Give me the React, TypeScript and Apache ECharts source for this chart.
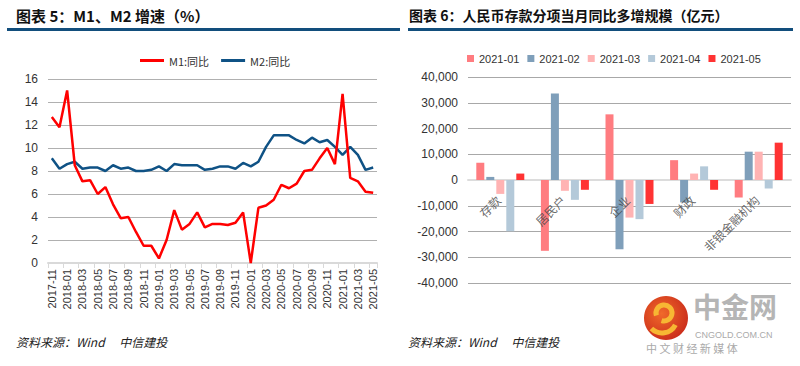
import React, { useEffect, useRef } from "react";
import * as echarts from "echarts";

const months = [
  "2017-11","2017-12","2018-01","2018-02","2018-03","2018-04","2018-05","2018-06","2018-07","2018-08","2018-09","2018-10","2018-11","2018-12",
  "2019-01","2019-02","2019-03","2019-04","2019-05","2019-06","2019-07","2019-08","2019-09","2019-10","2019-11","2019-12",
  "2020-01","2020-02","2020-03","2020-04","2020-05","2020-06","2020-07","2020-08","2020-09","2020-10","2020-11","2020-12",
  "2021-01","2021-02","2021-03","2021-04","2021-05",
];
const m1 = [12.7,11.8,15.0,8.5,7.1,7.2,6.0,6.6,5.1,3.9,4.0,2.7,1.5,1.5,0.4,2.0,4.6,2.9,3.4,4.4,3.1,3.4,3.4,3.3,3.5,4.4,0.0,4.8,5.0,5.5,6.8,6.5,6.9,8.0,8.1,9.1,10.0,8.6,14.7,7.4,7.1,6.2,6.1];
const m2 = [9.1,8.2,8.6,8.8,8.2,8.3,8.3,8.0,8.5,8.2,8.3,8.0,8.0,8.1,8.4,8.0,8.6,8.5,8.5,8.5,8.1,8.2,8.4,8.4,8.2,8.7,8.4,8.8,10.1,11.1,11.1,11.1,10.7,10.4,10.9,10.5,10.7,10.1,9.4,10.1,9.4,8.1,8.3];
const lineNames = ["M1:同比", "M2:同比"];

const depositCats = ["存款", "居民户", "企业", "财政", "非银金融机构"];
const barNames = ["2021-01", "2021-02", "2021-03", "2021-04", "2021-05"];
const bar01 = [6700, -27500, 25500, 7700, -6800];
const bar02 = [1200, 33600, -26900, -8700, 11000];
const bar03 = [-5400, -4200, -14600, 2500, 11000];
const bar04 = [-19900, -7700, -15200, 5300, -3300];
const bar05 = [2500, -3800, -9300, -3800, 14500];
const barColors = ["#ff7c80", "#7f9fba", "#ffb3b3", "#b4c9d9", "#ff3333"];

export default function App() {
  const ref = useRef<HTMLDivElement>(null);
  useEffect(() => {
    if (!ref.current) return;
    const chart = echarts.init(ref.current, null, { renderer: "svg" });
    const barData = [bar01, bar02, bar03, bar04, bar05];
    const cjk = '"Noto Sans CJK SC", "Liberation Sans", sans-serif';
    const option: any = {
      animation: false,
      backgroundColor: "#ffffff",
      textStyle: { fontFamily: '"Liberation Sans", Arial, sans-serif' },
      legend: [
        {
          data: lineNames,
          left: 135,
          top: 50,
          icon: "rect",
          itemWidth: 24,
          itemHeight: 3,
          itemGap: 12,
          textStyle: { fontSize: 11, color: "#333", fontFamily: cjk },
        },
        {
          data: barNames,
          left: 462,
          top: 48,
          icon: "rect",
          itemWidth: 7,
          itemHeight: 7,
          itemGap: 8,
          textStyle: { fontSize: 11, color: "#333" },
        },
      ],
      grid: [
        { left: 48, top: 79, width: 329, height: 184, containLabel: false },
        { left: 468, top: 77, width: 323, height: 206, containLabel: false },
      ],
      xAxis: [
        {
          gridIndex: 0,
          type: "category",
          data: months,
          boundaryGap: true,
          axisLine: { lineStyle: { color: "#d9d9d9", width: 2 } },
          axisTick: { show: true, interval: 1, alignWithLabel: false, lineStyle: { color: "#d9d9d9" } },
          axisLabel: { interval: 1, rotate: 90, fontSize: 11, color: "#333", margin: 6 },
        },
        {
          gridIndex: 1,
          type: "category",
          data: depositCats,
          axisLine: { onZero: true, lineStyle: { color: "#dcdcdc", width: 2 } },
          axisTick: { show: false },
          axisLabel: { show: false },
        },
      ],
      yAxis: [
        {
          gridIndex: 0,
          type: "value",
          min: 0,
          max: 16,
          interval: 2,
          axisLine: { show: false },
          axisTick: { show: false },
          axisLabel: { fontSize: 12, color: "#333", margin: 10 },
          splitLine: { lineStyle: { color: "#b0b0b0", width: 1 } },
        },
        {
          gridIndex: 1,
          type: "value",
          min: -40000,
          max: 40000,
          interval: 10000,
          axisLine: { show: false },
          axisTick: { show: false },
          axisLabel: {
            fontSize: 12,
            color: "#333",
            margin: 10,
            formatter: (v: number) => v.toLocaleString("en-US"),
          },
          splitLine: { lineStyle: { color: "#a8a8a8", width: 1 } },
        },
      ],
      series: [
        {
          name: lineNames[0],
          type: "line",
          xAxisIndex: 0,
          yAxisIndex: 0,
          data: m1,
          showSymbol: false,
          symbol: "none",
          lineStyle: { color: "#ff0000", width: 2.5 },
          itemStyle: { color: "#ff0000" },
          z: 3,
        },
        {
          name: lineNames[1],
          type: "line",
          xAxisIndex: 0,
          yAxisIndex: 0,
          data: m2,
          showSymbol: false,
          symbol: "none",
          lineStyle: { color: "#0f5285", width: 2.5 },
          itemStyle: { color: "#0f5285" },
          z: 2,
        },
        ...barNames.map((n, i) => ({
          name: n,
          type: "bar",
          xAxisIndex: 1,
          yAxisIndex: 1,
          data: barData[i],
          barWidth: 8,
          barGap: "25%",
          itemStyle: { color: barColors[i] },
        })),
        {
          name: "cat-labels",
          type: "scatter",
          xAxisIndex: 1,
          yAxisIndex: 1,
          data: depositCats.map((c) => [c, 0]),
          symbolSize: 0,
          silent: true,
          z: 10,
          label: {
            show: true,
            position: [0, 0],
            formatter: (p: any) => p.value[0],
            rotate: 45,
            align: "right",
            verticalAlign: "top",
            offset: [-14, 5],
            fontSize: 12,
            color: "#444",
            fontFamily: cjk,
          },
        },
      ],
      graphic: [
        {
          type: "text",
          left: 16,
          top: 8,
          style: { text: "图表 5：M1、M2 增速（%）", fontSize: 15, fontWeight: "bold", fill: "#111", fontFamily: cjk },
        },
        {
          type: "text",
          left: 409,
          top: 8,
          style: { text: "图表 6：人民币存款分项当月同比多增规模（亿元）", fontSize: 14, fontWeight: "bold", fill: "#111", fontFamily: cjk },
        },
        { type: "rect", shape: { x: 7, y: 28, width: 393, height: 3 }, style: { fill: "#124e7c" } },
        { type: "rect", shape: { x: 408, y: 28, width: 385, height: 3 }, style: { fill: "#124e7c" } },
        {
          type: "text",
          left: 16,
          top: 335,
          style: { text: "资料来源：Wind　 中信建投", fontSize: 12, fontStyle: "italic", fill: "#222", fontFamily: cjk },
        },
        {
          type: "text",
          left: 408,
          top: 335,
          style: { text: "资料来源：Wind　 中信建投", fontSize: 12, fontStyle: "italic", fill: "#222", fontFamily: cjk },
        },
        // watermark logo
        {
          type: "circle",
          shape: { cx: 666, cy: 318, r: 22 },
          style: {
            fill: new echarts.graphic.RadialGradient(0.4, 0.4, 0.7, [
              { offset: 0, color: "#f06a2a" },
              { offset: 1, color: "#c8281a" },
            ]),
          },
        },
        {
          type: "arc",
          shape: { cx: 664, cy: 313, r: 8, startAngle: Math.PI * 0.9, endAngle: Math.PI * 2.6 },
          style: { stroke: "#f7b733", lineWidth: 5, fill: "none" },
        },
        {
          type: "arc",
          shape: { cx: 662, cy: 318, r: 15, startAngle: Math.PI * 0.15, endAngle: Math.PI * 0.75 },
          style: { stroke: "#f7b733", lineWidth: 5, fill: "none" },
        },
        {
          type: "text",
          left: 693,
          top: 292,
          style: { text: "中金网", fontSize: 28, fontWeight: "bold", fill: "#b5b5b5", fontFamily: cjk },
        },
        {
          type: "text",
          left: 695,
          top: 330,
          style: { text: "CNGOLD.COM.CN", fontSize: 9, fill: "#aaaaaa", fontFamily: '"Liberation Sans", sans-serif' },
        },
        {
          type: "text",
          left: 646,
          top: 342,
          style: { text: "中 文 财 经 新 媒 体", fontSize: 11, fill: "#aaaaaa", fontFamily: cjk },
        },
      ],
    };
    chart.setOption(option);
    return () => chart.dispose();
  }, []);
  return (
    <div
      ref={ref}
      style={{ position: "fixed", left: 0, top: 0, width: 800, height: 366, background: "#fff" }}
    />
  );
}
